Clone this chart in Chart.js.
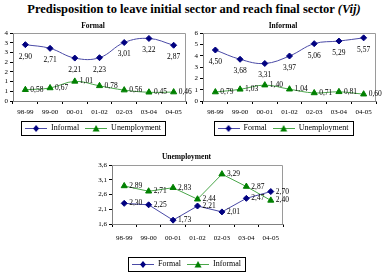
<!DOCTYPE html>
<html>
<head>
<meta charset="utf-8">
<script src="https://cdn.jsdelivr.net/npm/chart.js@4.4.0/dist/chart.umd.min.js"></script>
<style>
  html, body { margin: 0; padding: 0; }
  body { background: #fff; width: 382px; height: 272px; position: relative; overflow: hidden; }
  #title { position: absolute; left: 0px; top: 2px; width: 388px; text-align: center;
           font: bold 12.5px "Liberation Serif", "Times New Roman", "DejaVu Serif", serif; color: #000; white-space: nowrap; }
  .box { position: absolute; }
</style>
</head>
<body>
<div id="title">Predisposition to leave initial sector and reach final sector <i>(Vij)</i></div>
<div class="box" style="left:0px;top:20px;width:192px;height:122px"><canvas id="formal"></canvas></div>
<div class="box" style="left:190px;top:20px;width:192px;height:122px"><canvas id="informal"></canvas></div>
<div class="box" style="left:90px;top:148px;width:200px;height:130px"><canvas id="unemp"></canvas></div>
<script>
const periods = ["98-99", "99-00", "00-01", "01-02", "02-03", "03-04", "04-05"];

// Formal sector chart
const formalToInformal = [2.90, 2.71, 2.21, 2.23, 3.01, 3.22, 2.87];
const formalToUnemp = [0.58, 0.67, 1.01, 0.78, 0.56, 0.45, 0.46];

// Informal sector chart
const informalToFormal = [4.50, 3.68, 3.31, 3.97, 5.06, 5.29, 5.57];
const informalToUnemp = [0.79, 1.03, 1.40, 1.04, 0.71, 0.81, 0.60];

// Unemployment chart
const unempToFormal = [2.30, 2.25, 1.73, 2.21, 2.01, 2.47, 2.70];
const unempToInformal = [2.89, 2.71, 2.83, 2.44, 3.29, 2.87, 2.40];

const FONT = "'Liberation Serif', 'Times New Roman', 'DejaVu Serif', serif";
const BLUE = "#000080", BLUE_LINE = "#4a4aa6";
const GREEN = "#008000", GREEN_LINE = "#4aa64a";

function comma(v, d) { return v.toFixed(d).replace(".", ","); }

// little line + marker image for the legend, like excel draws it
function legendIcon(color, lineColor, style) {
  const c = document.createElement("canvas");
  c.width = 22; c.height = 8;
  const ctx = c.getContext("2d");
  ctx.strokeStyle = lineColor; ctx.lineWidth = 1;
  ctx.beginPath(); ctx.moveTo(0, 4.5); ctx.lineTo(22, 4.5); ctx.stroke();
  ctx.fillStyle = color;
  ctx.beginPath();
  if (style === "diamond") {
    ctx.moveTo(11, 1); ctx.lineTo(14, 4.5); ctx.lineTo(11, 8); ctx.lineTo(8, 4.5);
  } else {
    ctx.moveTo(11, 1); ctx.lineTo(14.5, 7.5); ctx.lineTo(7.5, 7.5);
  }
  ctx.closePath(); ctx.fill();
  return c;
}
const diamondIcon = legendIcon(BLUE, BLUE_LINE, "diamond");
const triangleIcon = legendIcon(GREEN, GREEN_LINE, "triangle");

const valueLabels = {
  id: "valueLabels",
  afterDatasetsDraw(chart) {
    const ctx = chart.ctx;
    ctx.save();
    ctx.font = "7.5px " + FONT;
    ctx.fillStyle = "#000";
    chart.data.datasets.forEach((ds, i) => {
      chart.getDatasetMeta(i).data.forEach((pt, j) => {
        const txt = comma(ds.data[j], 2);
        if (ds.labelPos === "below") {
          ctx.textAlign = "center"; ctx.textBaseline = "middle";
          ctx.fillText(txt, pt.x, pt.y + 12);
        } else {
          ctx.textAlign = "left"; ctx.textBaseline = "middle";
          ctx.fillText(txt, pt.x + 5, pt.y);
        }
      });
    });
    ctx.restore();
  }
};

const frames = {
  id: "frames",
  beforeDatasetsDraw(chart) {
    const a = chart.chartArea, ctx = chart.ctx;
    ctx.save();
    ctx.strokeStyle = "#9a9a9a"; ctx.lineWidth = 1;
    ctx.beginPath();
    ctx.moveTo(a.left, a.top + 0.5); ctx.lineTo(a.right - 0.5, a.top + 0.5); ctx.lineTo(a.right - 0.5, a.bottom);
    ctx.stroke();
    ctx.restore();
  },
  afterDraw(chart) {
    const boxes = chart.legend.legendHitBoxes;
    if (!boxes || !boxes.length) return;
    const l = Math.min(...boxes.map(b => b.left)) - 4;
    const r = Math.max(...boxes.map(b => b.left + b.width)) + 4;
    const t = boxes[0].top - 3;
    const b = boxes[0].top + boxes[0].height + 3;
    const ctx = chart.ctx;
    ctx.save();
    ctx.strokeStyle = "#000"; ctx.lineWidth = 1;
    ctx.strokeRect(Math.round(l) + 0.5, Math.round(t) + 0.5, Math.round(r - l), Math.round(b - t));
    ctx.restore();
  }
};

function series(label, data, blue, labelPos, smooth) {
  return {
    label, data, labelPos,
    borderColor: blue ? BLUE_LINE : GREEN_LINE,
    backgroundColor: blue ? BLUE : GREEN,
    pointBackgroundColor: blue ? BLUE : GREEN,
    pointBorderColor: blue ? BLUE : GREEN,
    pointStyle: blue ? "rectRot" : "triangle",
    pointRadius: blue ? 3 : 3.5,
    borderWidth: 1,
    tension: smooth ? 0.4 : 0
  };
}

// lay: title padding, x label padding, x axis height, y axis width, right padding
function makeChart(id, title, sets, yOpts, lay) {
  return new Chart(document.getElementById(id), {
    type: "line",
    data: { labels: periods, datasets: sets },
    options: {
      responsive: true,
      maintainAspectRatio: false,
      animation: false,
      layout: { padding: { right: lay.right, left: 0, top: 0, bottom: 0 } },
      plugins: {
        title: { display: true, text: title, color: "#000", font: { family: FONT, size: 7.5 }, padding: lay.title },
        legend: {
          position: "bottom",
          labels: {
            usePointStyle: true, pointStyleWidth: 22, boxHeight: 8,
            color: "#000", font: { family: FONT, size: 8 }, padding: 6,
            generateLabels: (chart) => chart.data.datasets.map((ds, i) => ({
              text: ds.label, datasetIndex: i,
              pointStyle: ds.pointStyle === "rectRot" ? diamondIcon : triangleIcon,
              fontColor: "#000", lineWidth: 0, strokeStyle: "transparent", fillStyle: "transparent"
            }))
          }
        },
        tooltip: { enabled: false }
      },
      scales: {
        x: {
          offset: true,
          grid: { display: true, offset: true, drawOnChartArea: false, tickLength: 3, color: "#000" },
          border: { color: "#808080" },
          ticks: { color: "#000", font: { family: FONT, size: 7 }, padding: lay.xPad, maxRotation: 0, autoSkip: false },
          afterFit: (s) => { s.height = lay.xHeight; }
        },
        y: Object.assign({
          grid: { display: true, drawOnChartArea: false, tickLength: 3, color: "#000" },
          border: { color: "#808080" },
          afterFit: (s) => { s.width = lay.yWidth; }
        }, yOpts)
      }
    },
    plugins: [valueLabels, frames]
  });
}

const topLay = { title: { top: 2, bottom: 2 }, xPad: 4, xHeight: 17, yWidth: 13, right: 6 };

makeChart("formal", "Formal", [
  series("Informal", formalToInformal, true, "below", true),
  series("Unemployment", formalToUnemp, false, "right", true)
], {
  min: 0, max: 3.5,
  ticks: { stepSize: 0.5, autoSkip: false, color: "#000", font: { family: FONT, size: 7 }, padding: 2, callback: (v) => Math.round(v) }
}, topLay);

makeChart("informal", "Informal", [
  series("Formal", informalToFormal, true, "below", true),
  series("Unemployment", informalToUnemp, false, "right", true)
], {
  min: 0, max: 6,
  ticks: { stepSize: 1, autoSkip: false, color: "#000", font: { family: FONT, size: 7 }, padding: 2, callback: (v) => v }
}, topLay);

makeChart("unemp", "Unemployment", [
  series("Formal", unempToFormal, true, "right", false),
  series("Informal", unempToInformal, false, "right", false)
], {
  min: 1.6, max: 3.6,
  ticks: { stepSize: 0.5, autoSkip: false, color: "#000", font: { family: FONT, size: 7 }, padding: 2, callback: (v) => comma(v, 1) }
}, { title: { top: 4.5, bottom: 3.5 }, xPad: 7, xHeight: 30, yWidth: 22, right: 7 });
</script>
</body>
</html>
